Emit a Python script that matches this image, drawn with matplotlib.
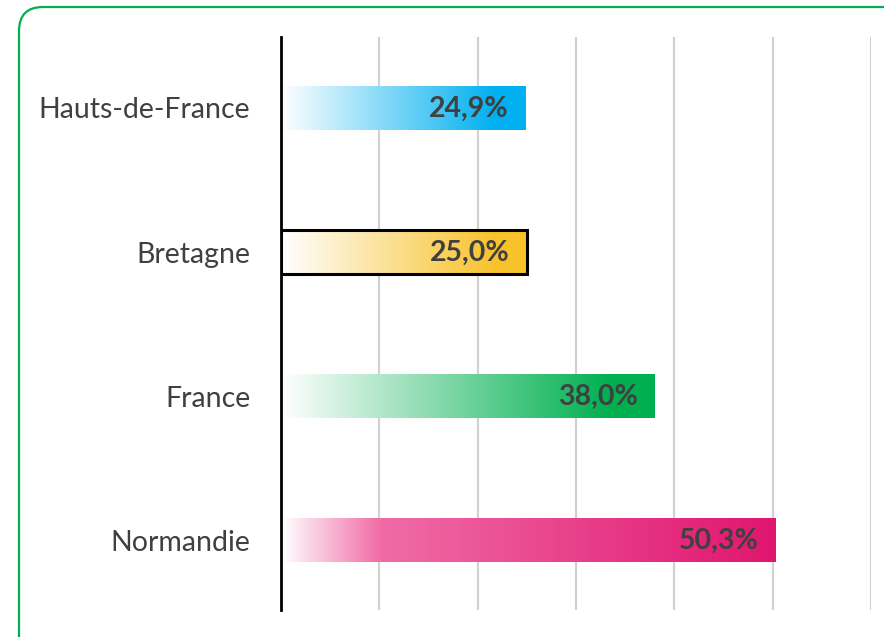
import numpy as np
import matplotlib.pyplot as plt
from matplotlib.colors import LinearSegmentedColormap
from matplotlib.patches import Rectangle, FancyBboxPatch
from matplotlib.transforms import IdentityTransform

# regions listed top to bottom
regions = ["Hauts-de-France", "Bretagne", "France", "Normandie"]
shares = [24.9, 25.0, 38.0, 50.3]
labels = ["24,9%", "25,0%", "38,0%", "50,3%"]
bar_colors = ["#00b0f0", "#f8c22a", "#00b050", "#e0156f"]
highlight = "Bretagne"

fig = plt.figure(figsize=(8.84, 6.37), dpi=100)
ax = fig.add_axes([281 / 884, 27 / 637, (871 - 281) / 884, 573 / 637])

# rounded green frame around the whole figure
frame = FancyBboxPatch((19, -40), 920, 637 - 7 + 40,
                       boxstyle="round,pad=0,rounding_size=24",
                       transform=IdentityTransform(), fill=False,
                       edgecolor="#00b050", linewidth=1.6, zorder=10)
fig.patches.append(frame)

bar_h = 0.305
ramp = np.linspace(0, 1, 256).reshape(1, -1)
for i, (name, val, col) in enumerate(zip(regions, shares, bar_colors)):
    # white on the left fading into the full colour near the bar end
    if name == "Normandie":
        stops = [(0, "#ffffff"), (0.2, "#f06ca6"), (1, col)]
    else:
        stops = [(0, "#ffffff"), (0.88, col), (1, col)]
    cmap = LinearSegmentedColormap.from_list(name, stops)
    ax.imshow(ramp, cmap=cmap, aspect="auto", interpolation="bilinear",
              extent=[0, val, i + bar_h / 2, i - bar_h / 2], zorder=2)
    if name == highlight:
        ax.add_patch(Rectangle((0, i - bar_h / 2), val, bar_h, fill=False,
                               edgecolor="black", linewidth=2.2, zorder=3))
    ax.annotate(labels[i], xy=(val, i), xytext=(-17, -1),
                textcoords="offset pixels", ha="right", va="center",
                fontsize=20.5, fontweight="bold", color="#404040",
                family="Lato", zorder=4)

ax.set_xlim(0, 60)
ax.set_ylim(3.486, -0.493)
ax.set_xticks([10, 20, 30, 40, 50, 60])
ax.grid(axis="x", color="#d0d0d0", linewidth=1.5, zorder=0)
ax.set_axisbelow(True)
ax.tick_params(axis="x", length=0, labelbottom=False)
ax.set_yticks(range(len(regions)))
ax.set_yticklabels(regions, fontsize=20.5, color="#404040", family="Lato")
ax.tick_params(axis="y", length=0, pad=22)
for side in ["top", "right", "bottom"]:
    ax.spines[side].set_visible(False)
ax.spines["left"].set_color("black")
ax.spines["left"].set_linewidth(2)
ax.spines["left"].set_zorder(5)

fig.savefig("out.png", dpi=100)
